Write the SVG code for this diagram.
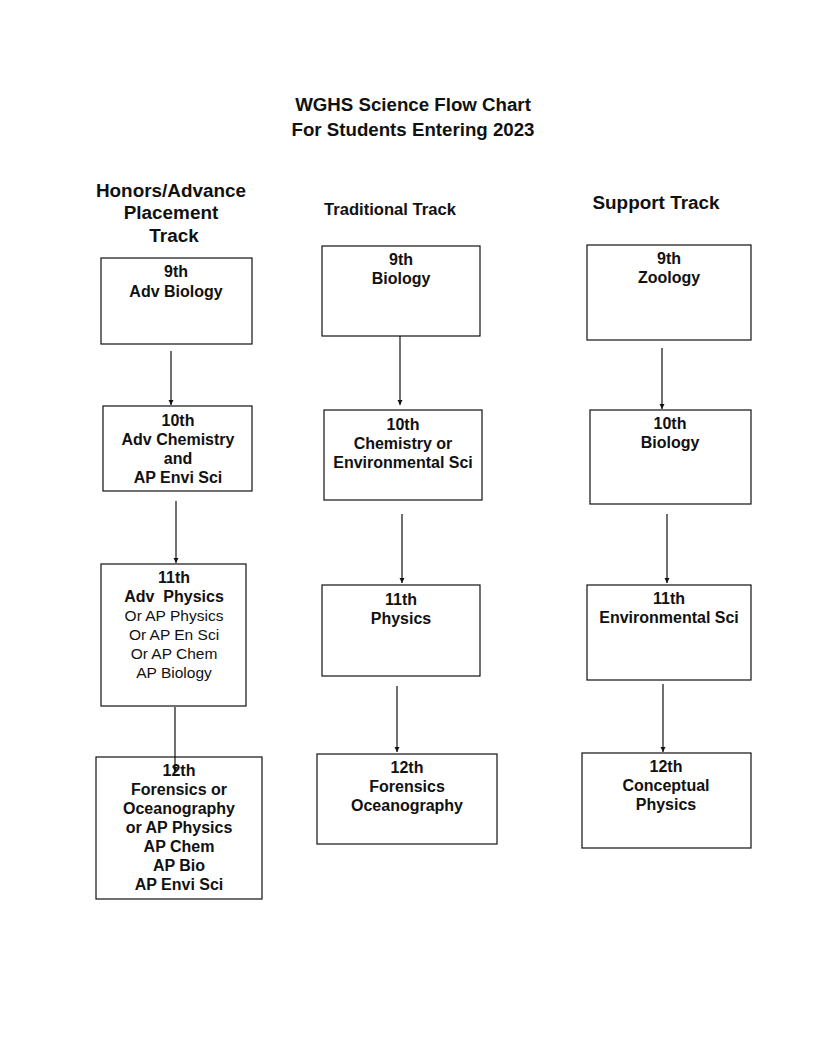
<svg xmlns="http://www.w3.org/2000/svg" width="816" height="1045" viewBox="0 0 816 1045">
<style>
text{font-family:"Liberation Sans",Arial,sans-serif;fill:#111;text-anchor:middle}
.t{font-size:18.7px;font-weight:bold}
.h{font-size:18.9px;font-weight:bold}
.b{font-size:16px;font-weight:bold}
.n{font-size:15.5px}
rect{fill:#fff;stroke:#111;stroke-width:1.2}
.c line{stroke:#111;stroke-width:1.2}
</style>
<defs>
<marker id="ah" viewBox="0 0 10 10" refX="10" refY="5" markerWidth="5" markerHeight="6" markerUnits="userSpaceOnUse" orient="auto"><path d="M0,0 L10,5 L0,10 z" fill="#111"/></marker>
</defs>
<rect x="0" y="0" width="816" height="1045" style="stroke:none;fill:#fff"/>
<g id="title">
<text class="t" x="413" y="111">WGHS Science Flow Chart</text>
<text class="t" x="413" y="136">For Students Entering 2023</text>
</g>
<g id="hdr-honors">
<text class="h" x="171" y="197">Honors/Advance</text>
<text class="h" x="171" y="219">Placement</text>
<text class="h" x="174" y="242">Track</text>
</g>
<g id="hdr-trad"><text class="b" x="390" y="215" style="font-size:16.6px">Traditional Track</text></g>
<g id="hdr-support"><text class="h" x="656" y="209">Support Track</text></g>

<g id="h9"><rect x="101" y="258" width="151" height="86"/>
<text class="b" x="176" y="277">9th</text><text class="b" x="176" y="297">Adv Biology</text></g>
<g id="h10"><rect x="103" y="406" width="149" height="85"/>
<text class="b" x="178" y="426">10th</text><text class="b" x="178" y="445">Adv Chemistry</text><text class="b" x="178" y="464">and</text><text class="b" x="178" y="483">AP Envi Sci</text></g>
<g id="h11"><rect x="101" y="564" width="145" height="142"/>
<text class="b" x="174" y="583">11th</text><text class="b" x="174" y="602">Adv&#160; Physics</text><text class="n" x="174" y="621">Or AP Physics</text><text class="n" x="174" y="640">Or AP En Sci</text><text class="n" x="174" y="659">Or AP Chem</text><text class="n" x="174" y="678">AP Biology</text></g>
<g id="h12"><rect x="96" y="757" width="166" height="142"/>
<text class="b" x="179" y="776">12th</text><text class="b" x="179" y="795">Forensics or</text><text class="b" x="179" y="814">Oceanography</text><text class="b" x="179" y="833">or AP Physics</text><text class="b" x="179" y="852">AP Chem</text><text class="b" x="179" y="871">AP Bio</text><text class="b" x="179" y="890">AP Envi Sci</text></g>

<g id="t9"><rect x="322" y="246" width="158" height="90"/>
<text class="b" x="401" y="265">9th</text><text class="b" x="401" y="284">Biology</text></g>
<g id="t10"><rect x="324" y="410" width="158" height="90"/>
<text class="b" x="403" y="430">10th</text><text class="b" x="403" y="449">Chemistry or</text><text class="b" x="403" y="468">Environmental Sci</text></g>
<g id="t11"><rect x="322" y="585" width="158" height="91"/>
<text class="b" x="401" y="605">11th</text><text class="b" x="401" y="624">Physics</text></g>
<g id="t12"><rect x="317" y="754" width="180" height="90"/>
<text class="b" x="407" y="773">12th</text><text class="b" x="407" y="792">Forensics</text><text class="b" x="407" y="811">Oceanography</text></g>

<g id="s9"><rect x="587" y="245" width="164" height="95"/>
<text class="b" x="669" y="264">9th</text><text class="b" x="669" y="283">Zoology</text></g>
<g id="s10"><rect x="590" y="410" width="161" height="94"/>
<text class="b" x="670" y="429">10th</text><text class="b" x="670" y="448">Biology</text></g>
<g id="s11"><rect x="587" y="585" width="164" height="95"/>
<text class="b" x="669" y="604">11th</text><text class="b" x="669" y="623">Environmental Sci</text></g>
<g id="s12"><rect x="582" y="753" width="169" height="95"/>
<text class="b" x="666" y="772">12th</text><text class="b" x="666" y="791">Conceptual</text><text class="b" x="666" y="810">Physics</text></g>

<g id="connectors" class="c">
<line x1="171" y1="351" x2="171" y2="405" marker-end="url(#ah)"/>
<line x1="176" y1="501" x2="176" y2="563" marker-end="url(#ah)"/>
<line x1="175" y1="707" x2="175" y2="772" marker-end="url(#ah)"/>
<line x1="400" y1="336" x2="400" y2="405" marker-end="url(#ah)"/>
<line x1="402" y1="514" x2="402" y2="583" marker-end="url(#ah)"/>
<line x1="397" y1="686" x2="397" y2="752" marker-end="url(#ah)"/>
<line x1="662" y1="348" x2="662" y2="409" marker-end="url(#ah)"/>
<line x1="667" y1="514" x2="667" y2="583" marker-end="url(#ah)"/>
<line x1="663" y1="684" x2="663" y2="752" marker-end="url(#ah)"/>
</g>
</svg>
